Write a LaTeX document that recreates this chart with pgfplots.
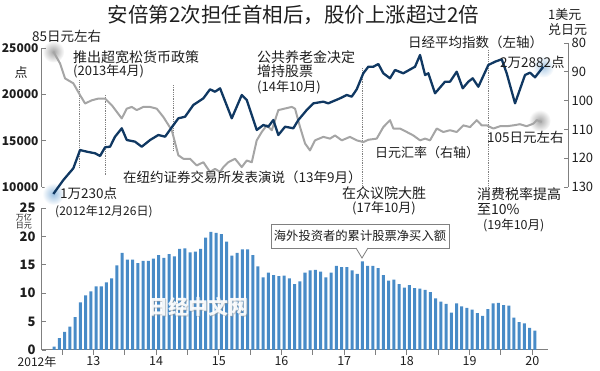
\documentclass[border=0pt]{standalone}
\usepackage{fontspec}
\setmainfont{Noto Sans CJK SC}
\usepackage{pgfplots}
\usepackage{pgfplotstable}
\pgfplotsset{compat=1.18}
\definecolor{nikkei}{RGB}{16,56,98}
\definecolor{yen}{RGB}{165,165,165}
\definecolor{barc}{RGB}{72,139,199}
\definecolor{axisgray}{RGB}{128,128,128}
\definecolor{txt}{RGB}{30,30,30}
\newcommand{\fs}[1]{\fontsize{#1}{#1}\selectfont}

\pgfplotstableread{
x y
2012.861 9250
2013.021 10755
2013.180 12020
2013.287 13990
2013.394 13810
2013.526 13640
2013.606 13345
2013.686 14285
2013.766 14350
2013.845 15430
2013.952 16335
2014.032 15070
2014.164 14890
2014.271 14350
2014.404 15070
2014.536 15610
2014.643 15430
2014.750 16440
2014.855 17410
2014.962 17585
2015.094 18850
2015.254 19570
2015.360 20540
2015.440 20280
2015.520 20650
2015.707 17410
2015.866 19925
2015.946 19390
2016.105 16150
2016.211 16690
2016.290 16505
2016.370 17230
2016.450 15610
2016.557 16505
2016.689 16335
2016.769 17230
2016.903 18310
2017.008 19030
2017.167 19205
2017.247 19030
2017.434 19570
2017.541 19925
2017.620 19745
2017.700 20540
2017.805 22270
2017.885 22980
2017.965 22980
2018.045 23270
2018.124 22270
2018.231 21730
2018.311 22625
2018.443 22270
2018.630 22980
2018.710 24245
2018.790 22085
2018.842 22270
2018.949 20110
2019.108 21360
2019.188 21360
2019.295 22440
2019.391 20650
2019.480 21360
2019.550 21730
2019.640 20820
2019.799 23160
2019.906 23520
2020.013 23780
2020.092 22270
2020.225 19030
2020.384 22085
2020.464 22335
2020.544 21835
2020.676 22980
}\nikkeidata

\pgfplotstableread{
x y
2012.861 83.0
2012.968 87.1
2013.048 92.3
2013.180 94.0
2013.287 98.1
2013.367 101.0
2013.474 99.9
2013.579 99.3
2013.686 99.3
2013.793 101.6
2013.952 106.2
2014.032 102.8
2014.112 102.2
2014.191 103.3
2014.297 102.2
2014.404 102.2
2014.510 102.8
2014.616 105.7
2014.750 110.3
2014.855 119.0
2014.935 120.2
2015.041 120.2
2015.148 122.5
2015.254 121.4
2015.360 124.8
2015.440 123.7
2015.520 124.8
2015.573 123.1
2015.652 121.4
2015.759 120.2
2015.866 123.1
2015.946 120.8
2016.026 121.4
2016.105 113.8
2016.185 110.9
2016.265 108.6
2016.345 110.3
2016.450 103.3
2016.663 102.2
2016.716 102.8
2016.796 109.2
2016.876 114.9
2016.955 117.3
2017.035 113.8
2017.167 112.6
2017.274 113.2
2017.354 112.1
2017.461 113.8
2017.593 112.6
2017.700 113.8
2017.805 114.4
2017.885 113.6
2018.019 113.2
2018.124 109.2
2018.231 106.8
2018.284 109.7
2018.391 109.7
2018.498 110.9
2018.603 112.1
2018.710 113.8
2018.790 113.2
2018.869 113.8
2018.976 109.7
2019.081 110.9
2019.188 110.3
2019.295 110.9
2019.400 108.6
2019.507 109.2
2019.614 106.8
2019.694 108.6
2019.774 108.6
2019.879 109.7
2019.986 108.9
2020.092 108.9
2020.198 108.6
2020.303 108.2
2020.410 108.9
2020.517 108.0
2020.571 106.8
2020.651 107.4
}\yendata

\pgfplotstableread{
year month val
2012 11 0.6
2012 12 2.1
2013 1 3.2
2013 2 4.1
2013 3 5.8
2013 4 8.4
2013 5 9.6
2013 6 10.3
2013 7 11.2
2013 8 11.2
2013 9 11.9
2013 10 12.6
2013 11 14.9
2013 12 17.1
2014 1 15.9
2014 2 15.9
2014 3 15.3
2014 4 15.7
2014 5 15.7
2014 6 16.1
2014 7 16.7
2014 8 16.2
2014 9 16.9
2014 10 16.5
2014 11 17.8
2014 12 17.9
2015 1 17.2
2015 2 17.3
2015 3 17.8
2015 4 19.8
2015 5 20.8
2015 6 20.6
2015 7 20.4
2015 8 19.1
2015 9 16.6
2015 10 17.1
2015 11 17.7
2015 12 17.7
2016 1 16.7
2016 2 14.7
2016 3 12.8
2016 4 13.6
2016 5 13.2
2016 6 13.0
2016 7 13.1
2016 8 12.6
2016 9 11.6
2016 10 12.1
2016 11 13.6
2016 12 14.0
2017 1 14.1
2017 2 13.8
2017 3 12.8
2017 4 13.6
2017 5 14.8
2017 6 14.6
2017 7 14.6
2017 8 14.0
2017 9 13.4
2017 10 15.6
2017 11 14.8
2017 12 14.8
2018 1 14.4
2018 2 13.2
2018 3 12.2
2018 4 12.4
2018 5 11.6
2018 6 11.0
2018 7 11.4
2018 8 10.9
2018 9 10.8
2018 10 10.6
2018 11 10.2
2018 12 9.1
2019 1 8.5
2019 2 8.1
2019 3 6.6
2019 4 8.2
2019 5 7.7
2019 6 7.4
2019 7 7.1
2019 8 6.5
2019 9 6.0
2019 10 7.2
2019 11 8.2
2019 12 8.3
2020 1 7.9
2020 2 7.8
2020 3 5.7
2020 4 4.9
2020 5 4.7
2020 6 3.9
2020 7 3.4
}\flowdata

\begin{document}
\begin{tikzpicture}[x=1pt,y=1pt]
\useasboundingbox (0,0) rectangle (600,371);

% ---------- yen (right axis) ----------
\begin{axis}[
  at={(42pt,184pt)}, anchor=south west, scale only axis,
  width=526pt, height=144pt,
  xmin=2012.68, xmax=2021.07, ymin=80, ymax=130, y dir=reverse,
  hide x axis, axis y line*=right,
  axis line style={axisgray, line width=1pt},
  ytick={80,90,100,110,120,130}, yticklabels={80,90,100,110,120,130},
  tick align=inside, major tick length=4pt,
  tick style={axisgray, line width=0.9pt},
  yticklabel style={font=\fs{13}, text=txt},
  clip=false,
]
\draw[axisgray, densely dotted, line width=0.8pt] (axis cs:2013.28,92.9) -- (axis cs:2013.28,123.2);
\draw[axisgray, densely dotted, line width=0.8pt] (axis cs:2013.686,98.1) -- (axis cs:2013.686,126.0);
\draw[axisgray, densely dotted, line width=0.8pt] (axis cs:2014.775,94.6) -- (axis cs:2014.775,117.3);
\draw[axisgray, densely dotted, line width=0.8pt] (axis cs:2017.79,88.7) -- (axis cs:2017.79,130.5);
\draw[axisgray, densely dotted, line width=0.8pt] (axis cs:2019.80,82.4) -- (axis cs:2019.80,130.2);
\shade[inner color=black!35, outer color=white] (axis cs:2012.861,83.0) circle (11pt);
\shade[inner color=black!35, outer color=white] (axis cs:2020.62,107.0) circle (11pt);
\addplot[yen, line width=2pt, line join=round] table {\yendata};
\end{axis}

% ---------- Nikkei (left axis) ----------
\begin{axis}[
  at={(42pt,184pt)}, anchor=south west, scale only axis,
  width=526pt, height=139pt,
  xmin=2012.68, xmax=2021.07, ymin=10000, ymax=25000,
  hide x axis, axis y line*=left,
  axis line style={axisgray, line width=1pt},
  ytick={10000,15000,20000,25000}, yticklabels={10000,15000,20000,25000},
  scaled y ticks=false,
  tick align=inside, major tick length=4pt,
  tick style={axisgray, line width=0.9pt},
  yticklabel style={font=\fs{12}\bfseries, text=txt},
  clip=false,
]
\shade[inner color=barc!55, outer color=white] (axis cs:2012.861,9250) circle (11pt);
\shade[inner color=barc!45, outer color=white] (axis cs:2020.676,22980) circle (11pt);
\addplot[nikkei, line width=2.3pt, line join=round] table {\nikkeidata};
\end{axis}

% ---------- net purchases (bars) ----------
\begin{axis}[
  at={(42pt,21pt)}, anchor=south west, scale only axis,
  width=506pt, height=142pt,
  xmin=2012.68, xmax=2020.751, ymin=0, ymax=25,
  axis x line*=bottom, axis y line*=left,
  axis line style={axisgray, line width=1pt},
  ybar, bar width=0.048,
  xtick={2013,2014,2015,2016,2017,2018,2019,2020}, xticklabels={},
  extra x ticks={2013.5,2014.5,2015.5,2016.5,2017.5,2018.5,2019.5,2020.5},
  extra x tick labels={13,14,15,16,17,18,19,20},
  extra x tick style={major tick length=0pt, xticklabel style={font=\fs{12.5}, text=txt, yshift=-3pt}},
  ytick={0,5,10,15,20,25}, yticklabels={0,5,10,15,20,25},
  tick align=inside, major tick length=4pt,
  tick style={axisgray, line width=0.9pt},
  xtick style={yshift=-5pt, /pgfplots/major tick length=5pt},
  yticklabel style={font=\fs{13}\bfseries, text=txt, xshift=-3pt},
  clip=false,
]
\addplot[fill=barc, draw=none] table[x expr=\thisrow{year}+(\thisrow{month}-0.5)/12, y=val] {\flowdata};
\end{axis}

% ---------- texts ----------
\node[font=\fs{20.5}, text=txt] at (293.5,356) {安倍第2次担任首相后，股价上涨超过2倍};
\node[font=\fs{13.5}, text=txt, anchor=west, inner sep=0pt] at (32,335) {85日元左右};
\node[font=\fs{13}, text=txt] at (21,298) {点};
\node[font=\fs{13}, text=txt, anchor=west, inner sep=0pt] at (548,356) {1美元};
\node[font=\fs{13}, text=txt, anchor=west, inner sep=0pt] at (548,341) {兑日元};
\node[font=\fs{14}, text=txt, anchor=west, inner sep=0pt] at (73,314) {推出超宽松货币政策};
\node[font=\fs{13}, text=txt, anchor=west, inner sep=0pt] at (73,300) {(2013年4月)};
\node[font=\fs{14}, text=txt, anchor=west, inner sep=0pt] at (257,314) {公共养老金决定};
\node[font=\fs{14}, text=txt, anchor=west, inner sep=0pt] at (257,300) {增持股票};
\node[font=\fs{13}, text=txt, anchor=west, inner sep=0pt] at (257,284) {(14年10月)};
\node[font=\fs{13.5}, text=txt, anchor=west, inner sep=0pt] at (408,329) {日经平均指数（左轴）};
\node[font=\fs{13.5}, text=txt, anchor=west, inner sep=0pt] at (500,309) {2万2882点};
\node[font=\fs{13.5}, text=txt, anchor=west, inner sep=0pt] at (487,234) {105日元左右};
\node[font=\fs{13}, text=txt, anchor=west, inner sep=0pt] at (375,218) {日元汇率（右轴）};
\node[font=\fs{13.5}, text=txt, anchor=west, inner sep=0pt] at (123,194) {在纽约证券交易所发表演说（13年9月）};
\node[font=\fs{14}, text=txt, anchor=west, inner sep=0pt] at (342,178) {在众议院大胜};
\node[font=\fs{13}, text=txt, anchor=west, inner sep=0pt] at (352,163) {(17年10月)};
\node[font=\fs{14}, text=txt, anchor=west, inner sep=0pt] at (477,177) {消费税率提高};
\node[font=\fs{14}, text=txt, anchor=west, inner sep=0pt] at (477,161.5) {至10\%};
\node[font=\fs{12.5}, text=txt, anchor=west, inner sep=0pt] at (483,146) {(19年10月)};
\node[font=\fs{13.5}, text=txt, anchor=west, inner sep=0pt] at (60,178) {1万230点};
\node[font=\fs{12}, text=txt, anchor=west, inner sep=0pt] at (55,159) {(2012年12月26日)};
\node[font=\fs{8}, text=txt, inner sep=0pt] at (24,153.5) {万亿};
\node[font=\fs{8}, text=txt, inner sep=0pt] at (24,145.5) {日元};
\node[font=\fs{12}, text=txt] at (37,9) {2012年};
% callout
\node[draw=axisgray, fill=white, line width=0.8pt, inner sep=0pt, minimum width=178pt, minimum height=24pt, font=\fs{12.3}, text=txt] at (360,135) {海外投资者的累计股票净买入额};
\fill[white] (355.5,123.6) -- (362,112.6) -- (368.5,123.6) -- cycle;
\draw[axisgray, line width=0.8pt] (356,123) -- (362,113) -- (368,123);
% watermark
\node[font=\fs{20}\bfseries, text=black!40, opacity=0.5] at (199,63) {日经中文网};
\node[font=\fs{20}\bfseries, text=white, opacity=0.92] at (198,64) {日经中文网};
\end{tikzpicture}
\end{document}
